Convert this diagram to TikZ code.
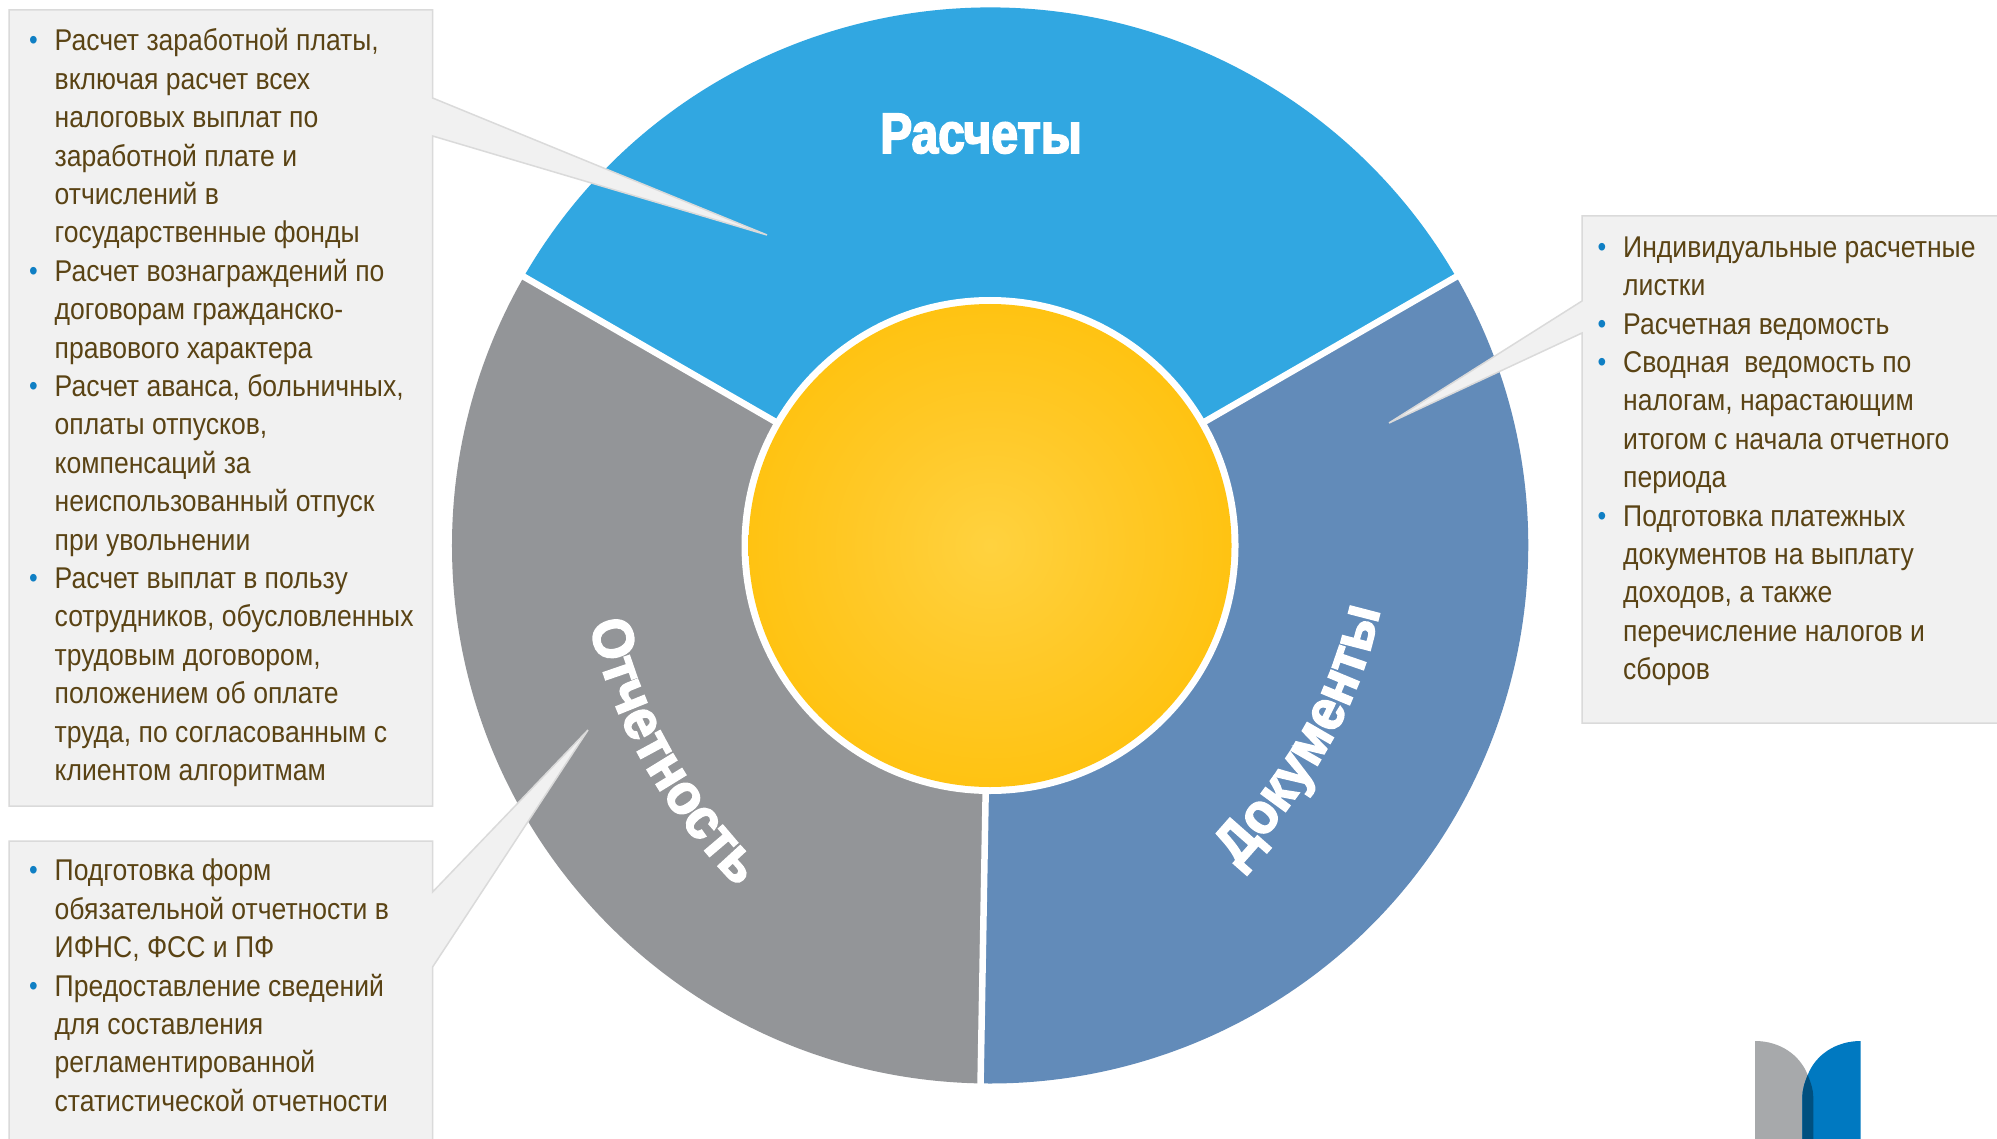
\documentclass[tikz,border=0pt]{standalone}
\usepackage{fontspec}
\usetikzlibrary{decorations.text}
\setmainfont{Liberation Sans}
\newfontfamily\bodyfont[FakeStretch=0.885]{Liberation Sans}
\newfontfamily\labfont[FakeStretch=0.84,FakeBold=3]{Liberation Sans Bold}
\newfontfamily\arcfont[FakeStretch=0.93,FakeBold=3]{Liberation Sans Bold}
\definecolor{boxfill}{HTML}{F1F1F1}
\definecolor{boxline}{HTML}{DADADA}
\definecolor{txt}{HTML}{5A4314}
\definecolor{bul}{HTML}{0F7FC4}
\definecolor{secblue}{HTML}{31A7E1}
\definecolor{secdoc}{HTML}{628BB9}
\definecolor{secgrey}{HTML}{939598}
\definecolor{goldc}{HTML}{FFD23F}
\definecolor{goldm}{HTML}{FFC928}
\definecolor{golde}{HTML}{FFC312}
\definecolor{logogrey}{HTML}{A7A9AB}
\definecolor{logoblue}{HTML}{0079C1}
\definecolor{logodark}{HTML}{00507F}
\pgfdeclareradialshading{goldshade}{\pgfpoint{0bp}{0bp}}{color(0bp)=(goldc); color(13bp)=(goldm); color(25bp)=(golde); color(50bp)=(golde)}
\newcommand{\bl}{\leavevmode\rule{0pt}{30pt}\llap{\textcolor{bul}{\raisebox{1pt}{\fontsize{28}{28}\selectfont•}}\hspace{17pt}}}
\tikzset{
  callout/.style={fill=boxfill,draw=boxline,line width=1.5pt,line join=miter},
  separator/.style={draw=white,line width=6.5pt},
  listtext/.style={anchor=north west,inner sep=0pt,align=left,text=txt,
    font=\bodyfont\fontsize{30}{38.4}\selectfont},
  arclabel/.style={decorate,decoration={text along path,text align=center,
    text={|\arcfont\fontsize{57}{57}\selectfont\color{white}|#1}}}
}
\begin{document}
\begin{tikzpicture}[x=1pt,y=-1pt]
\useasboundingbox (0,0) rectangle (1997,1139);
\clip (0,0) rectangle (1997,1139);
\fill[white] (0,0) rectangle (1997,1139);
\coordinate (c) at (990,545.5);
\fill[secblue] (c) -- (523.9,276.5) arc[start angle=210,end angle=330,radius=538] -- cycle;
\fill[secdoc] (c) -- (1456.1,276.5) arc[start angle=330,end angle=451,radius=538] -- cycle;
\fill[secgrey] (c) -- (980.6,1083.4) arc[start angle=91,end angle=210,radius=538] -- cycle;
\draw[separator] (c) -- (520,274.5);
\draw[separator] (c) -- (1460,274.5);
\draw[separator] (c) -- (980.5,1086);
\fill[white] (c) circle[radius=248.5];
\shade[shading=goldshade] (c) circle[radius=241.5];
% labels in the ring
\node[name=lab1,anchor=base,inner sep=0pt,text=white,font=\labfont\fontsize{57}{57}\selectfont] at (981,153) {Расчеты};
\path[arclabel={Отчетность}] (584,600) .. controls (612,738) and (675,825) .. (755,905);
\path[arclabel={Документы}] (1212,895) .. controls (1302,805) and (1370,703) .. (1386,573);
% call-out boxes
\path[callout] (9,10) -- (432.6,10) -- (432.6,98) -- (767,235) -- (432.6,136) -- (432.6,806) -- (9,806) -- cycle;
\path[callout] (9,841) -- (432.6,841) -- (432.6,892) -- (588,730) -- (432.6,967) -- (432.6,1160) -- (9,1160) -- cycle;
\path[callout] (2020,216) -- (1582,216) -- (1582,301) -- (1389,423) -- (1582,333) -- (1582,723) -- (2020,723) -- cycle;
\node[listtext,name=list1] at (54.5,20.7) {\bl Расчет заработной платы,\\
включая расчет всех\\
налоговых выплат по\\
заработной плате и\\
отчислений в\\
государственные фонды\\
\bl Расчет вознаграждений по\\
договорам гражданско-\\
правового характера\\
\bl Расчет аванса, больничных,\\
оплаты отпусков,\\
компенсаций за\\
неиспользованный отпуск\\
при увольнении\\
\bl Расчет выплат в пользу\\
сотрудников, обусловленных\\
трудовым договором,\\
положением об оплате\\
труда, по согласованным с\\
клиентом алгоритмам};
\node[listtext,name=list2] at (54.5,850.7) {\bl Подготовка форм\\
обязательной отчетности в\\
ИФНС, ФСС и ПФ\\
\bl Предоставление сведений\\
для составления\\
регламентированной\\
статистической отчетности};
\node[listtext,name=list3] at (1623,227) {\bl Индивидуальные расчетные\\
листки\\
\bl Расчетная ведомость\\
\bl Сводная \ ведомость по\\
налогам, нарастающим\\
итогом с начала отчетного\\
периода\\
\bl Подготовка платежных\\
документов на выплату\\
доходов, а также\\
перечисление налогов и\\
сборов};
% logo
\fill[logogrey] (1755,1041) .. controls (1780,1041) and (1800,1055) .. (1807.7,1075) .. controls (1811,1083) and (1813.3,1090) .. (1813.3,1097) -- (1813.3,1145) -- (1755,1145) -- cycle;
\fill[logoblue] (1860.7,1041) .. controls (1835.7,1041) and (1815.4,1055) .. (1807.7,1075) .. controls (1804.4,1083) and (1802.3,1090) .. (1802.3,1097) -- (1802.3,1145) -- (1860.7,1145) -- cycle;
\fill[logodark] (1807.7,1075) .. controls (1811,1083) and (1813.3,1090) .. (1813.3,1097) -- (1813.3,1145) -- (1802.3,1145) -- (1802.3,1097) .. controls (1802.3,1090) and (1804.4,1083) .. (1807.7,1075) -- cycle;
\end{tikzpicture}
\end{document}
